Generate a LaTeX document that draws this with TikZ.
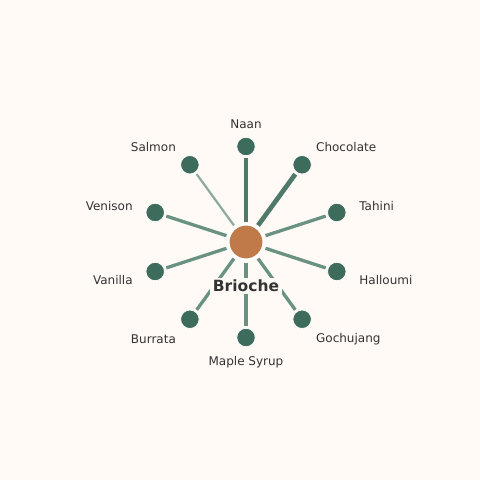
\documentclass[tikz,border=0pt]{standalone}
\usepackage{fontspec}
\setmainfont{DejaVu Sans}
\definecolor{bg}{HTML}{FFFAF6}
\definecolor{leaf}{HTML}{3D6B5C}
\definecolor{hub}{HTML}{C07A4A}
\definecolor{edgeA}{HTML}{4F7A6B}
\definecolor{edgeB}{HTML}{6A9283}
\definecolor{edgeC}{HTML}{8DAA9D}
\definecolor{txt}{HTML}{333333}
\tikzset{
  x=1pt,y=1pt,
  leafnode/.style={circle,fill=leaf,draw=white,line width=0.8pt,minimum size=18.5pt,inner sep=0pt},
  hubnode/.style={circle,fill=hub,draw=white,line width=2pt,minimum size=35pt,inner sep=0pt},
  lbl/.style={font=\fontsize{12pt}{14pt}\selectfont,text=txt,inner sep=0pt,yshift=-1pt},
  spoke/.style={line width=3.3pt,draw=edgeB,shorten <=2pt,shorten >=2pt},
  spokeheavy/.style={spoke,line width=4.7pt,draw=edgeA},
  spokelight/.style={spoke,line width=2.2pt,draw=edgeC},
}
\begin{document}
\begin{tikzpicture}
\fill[bg] (-246,-238) rectangle (234,242);
\useasboundingbox (-246,-238) rectangle (234,242);
\node[hubnode] (hub) at (0,0) {};
\foreach \n/\a in {naan/90,choc/54,tahini/18,hall/-18,gochu/-54,maple/-90,burr/-126,van/-162,ven/162,salm/126}{
  \node[leafnode] (\n) at (\a:95.5) {};
}
\draw[spokeheavy] (hub) -- (naan);
\draw[spokeheavy] (hub) -- (choc);
\draw[spoke] (hub) -- (tahini);
\draw[spoke] (hub) -- (hall);
\draw[spoke] (hub) -- (gochu);
\draw[spoke] (hub) -- (maple);
\draw[spoke] (hub) -- (burr);
\draw[spoke] (hub) -- (van);
\draw[spoke] (hub) -- (ven);
\draw[spokelight] (hub) -- (salm);
\node[lbl,anchor=center] (lnaan) at (90:119) {Naan};
\node[lbl,anchor=west] (lchoc) at (54:119) {Chocolate};
\node[lbl,anchor=west] (ltahini) at (18:119) {Tahini};
\node[lbl,anchor=west] (lhall) at (-18:119) {Halloumi};
\node[lbl,anchor=west] (lgochu) at (-54:119) {Gochujang};
\node[lbl,anchor=center] (lmaple) at (-90:119) {Maple Syrup};
\node[lbl,anchor=east] (lburr) at (-126:119) {Burrata};
\node[lbl,anchor=east] (lvan) at (-162:119) {Vanilla};
\node[lbl,anchor=east] (lven) at (162:119) {Venison};
\node[lbl,anchor=east] (lsalm) at (126:119) {Salmon};
\node[fill=bg,inner sep=2.5pt,text=txt,font=\fontsize{15.5pt}{17pt}\selectfont\bfseries] (title) at (0,-44) {Brioche};
\end{tikzpicture}
\end{document}
